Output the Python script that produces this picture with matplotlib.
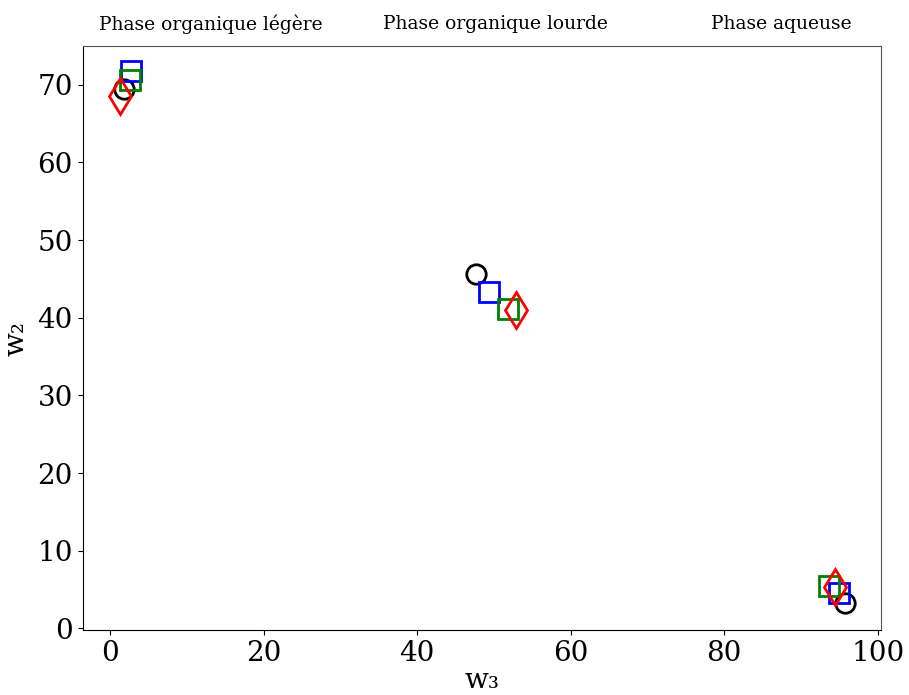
import matplotlib
matplotlib.use('Agg')
import matplotlib.pyplot as plt

plt.rcParams['font.family'] = 'DejaVu Serif'

# w3, w2 values per phase (light organic, heavy organic, aqueous)
circle_w3 = [1.8, 47.7, 95.7]
circle_w2 = [69.4, 45.6, 3.3]
blue_w3 = [2.7, 49.3, 94.9]
blue_w2 = [71.8, 43.3, 4.5]
green_w3 = [2.6, 51.8, 93.6]
green_w2 = [70.6, 41.1, 5.5]
red_w3 = [1.2, 52.9, 94.4]
red_w2 = [68.6, 41.0, 5.3]

phases = ['Phase organique légère', 'Phase organique lourde', 'Phase aqueuse']
phase_x = [0.232, 0.545, 0.860]

fig = plt.figure(figsize=(9.09, 6.95), dpi=100)
ax = fig.add_axes([0.091, 0.093, 0.878, 0.841])

ax.plot(circle_w3, circle_w2, 'o', ms=14, mfc='none', mec='black', mew=2)
ax.plot(blue_w3, blue_w2, 's', ms=14, mfc='none', mec='blue', mew=2)
ax.plot(green_w3, green_w2, 's', ms=14, mfc='none', mec='green', mew=2)
ax.plot(red_w3, red_w2, 'd', ms=18, mfc='none', mec='red', mew=2)

ax.set_xlim(-3.6, 100.4)
ax.set_ylim(-0.25, 75)
ax.set_xticks([0, 20, 40, 60, 80, 100])
ax.set_yticks([0, 10, 20, 30, 40, 50, 60, 70])
ax.tick_params(labelsize=20)
ax.set_xlabel('w\u2083', fontsize=20, labelpad=0)
ax.set_ylabel('w\u2082', fontsize=20, labelpad=6)
for s in ['top', 'right']:
    ax.spines[s].set_color('#555555')

for name, px in zip(phases, phase_x):
    fig.text(px, 0.965, name, ha='center', va='center', fontsize=13.5)

plt.savefig('out.png')
